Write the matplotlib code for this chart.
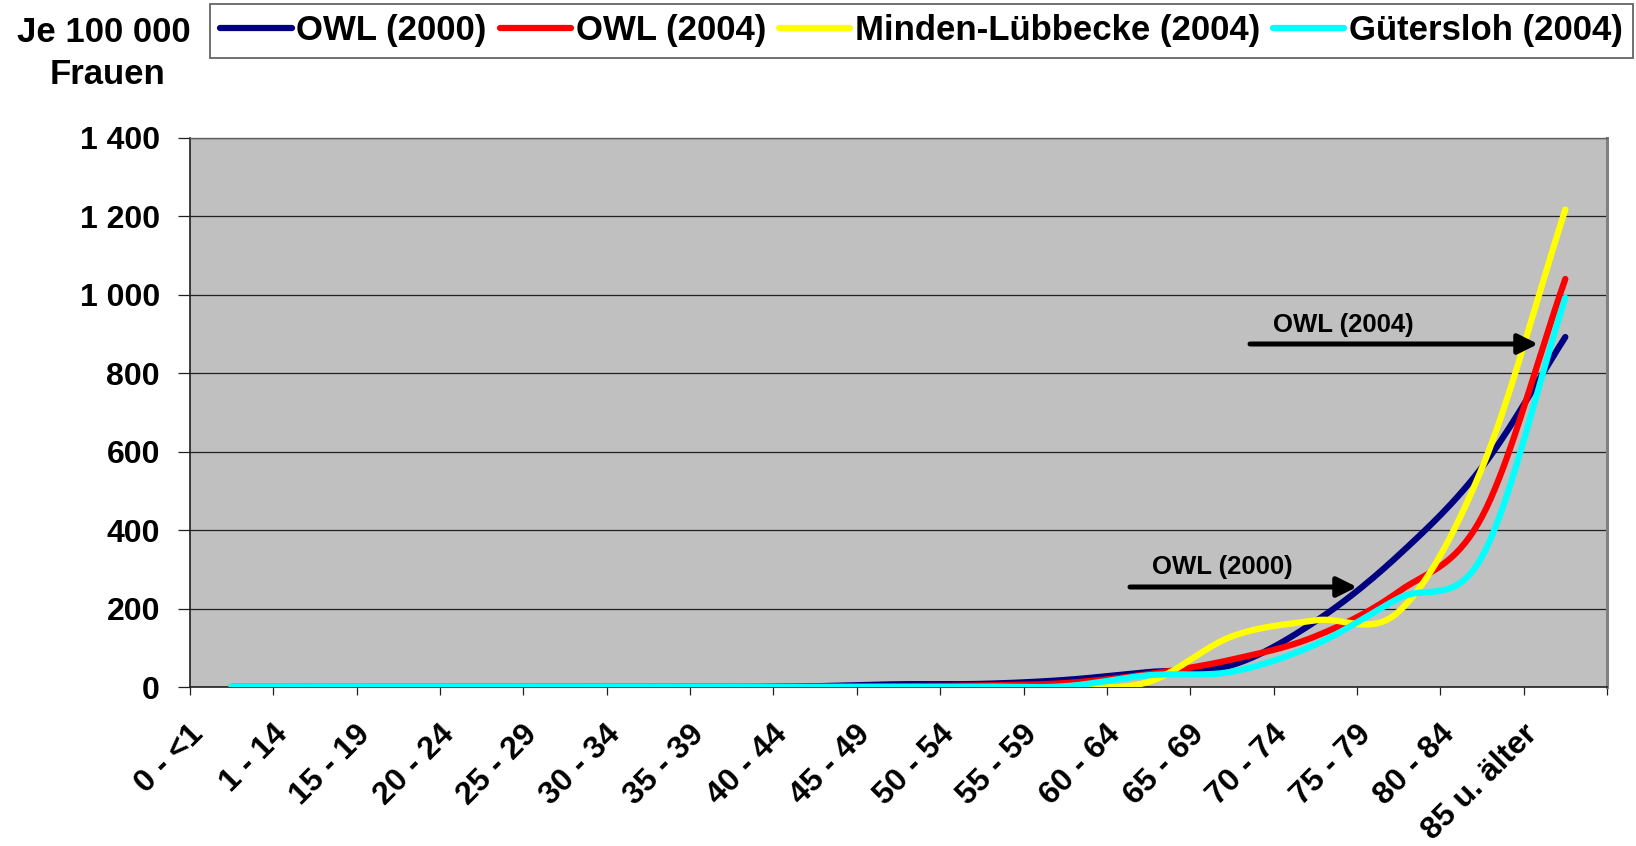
import numpy as np
import matplotlib
matplotlib.use('Agg')
import matplotlib.pyplot as plt
from matplotlib.lines import Line2D
from matplotlib.patches import FancyArrowPatch
import matplotlib.transforms as mtransforms

plt.rcParams['font.family'] = ['Liberation Sans', 'DejaVu Sans']
plt.rcParams['font.weight'] = 'bold'

# ---------------- data ----------------
categories = ['0 - <1', '1 - 14', '15 - 19', '20 - 24', '25 - 29', '30 - 34',
              '35 - 39', '40 - 44', '45 - 49', '50 - 54', '55 - 59', '60 - 64',
              '65 - 69', '70 - 74', '75 - 79', '80 - 84', '85 u. älter']

owl_2000 = [0, 0, 0, 0, 0, 0, 0, 2, 7, 8, 18, 38, 56, 167, 336, 560, 892]
owl_2004 = [0, 0, 0, 0, 0, 0, 0, 1, 2, 4, 10, 33, 70, 129, 243, 434, 1040]
minden_2004 = [0, 0, 0, 0, 0, 0, 0, 0, 0, 0, 0, 13, 129, 170, 192, 558, 1217]
guetersloh_2004 = [0, 0, 0, 0, 0, 0, 0, 0, 0, 1, 2, 30, 39, 108, 226, 332, 992]

series_names = ['OWL (2000)', 'OWL (2004)', 'Minden-Lübbecke (2004)', 'Gütersloh (2004)']
series_values = [owl_2000, owl_2004, minden_2004, guetersloh_2004]
series_colors = ['#000080', '#FF0000', '#FFFF00', '#00FFFF']

y_ticks = [0, 200, 400, 600, 800, 1000, 1200, 1400]
y_tick_labels = ['0', '200', '400', '600', '800', '1 000', '1 200', '1 400']

y_title_lines = ['Je 100 000', 'Frauen']


def smooth(vals, n=40):
    """Excel-like smoothed line (Catmull-Rom Bezier)."""
    y = np.asarray(vals, dtype=float)
    x = np.arange(len(y), dtype=float)
    m = np.zeros_like(y)
    m[1:-1] = (y[2:] - y[:-2]) / 2.0
    m[0] = (y[1] - y[0]) / 2.0
    m[-1] = (y[-1] - y[-2])
    xs, ys = [], []
    t = np.linspace(0, 1, n)
    for i in range(len(y) - 1):
        p0, p3 = y[i], y[i + 1]
        p1 = p0 + m[i] / 3.0
        p2 = p3 - m[i + 1] / 3.0
        b = ((1 - t) ** 3 * p0 + 3 * (1 - t) ** 2 * t * p1 +
             3 * (1 - t) * t ** 2 * p2 + t ** 3 * p3)
        xs.append(x[i] + t)
        ys.append(b)
    return np.concatenate(xs), np.concatenate(ys)


W, H = 1636, 846
fig = plt.figure(figsize=(W / 100, H / 100), dpi=100)
fig.patch.set_facecolor('white')

left, right, top, bottom = 190, 1607, 137.7, 687
ax = fig.add_axes([left / W, 1 - bottom / H, (right - left) / W, (bottom - top) / H])
ax.set_facecolor('#C0C0C0')
ax.set_xlim(-0.5, len(categories) - 0.5)
ax.set_ylim(0, 1400)

for vals, col in zip(series_values, series_colors):
    sx, sy = smooth(vals)
    ax.plot(sx, sy, color=col, lw=4.5, solid_capstyle='round',
            solid_joinstyle='round', zorder=3)

# grid & axes
ax.set_yticks(y_ticks)
ax.set_yticklabels(y_tick_labels, fontsize=23, fontweight='bold')
ax.yaxis.grid(True, color='#202020', lw=0.9)
ax.set_axisbelow(True)
ax.tick_params(axis='y', direction='out', length=8.6, width=0.9, pad=13, color='#202020')

ax.set_xticks(np.arange(-0.5, len(categories), 1.0))
ax.set_xticklabels([])
ax.tick_params(axis='x', direction='out', length=6, width=0.9, color='#202020')

for side in ['left', 'bottom']:
    ax.spines[side].set_color('#202020')
    ax.spines[side].set_linewidth(1.2)
ax.spines['top'].set_color('#606060')
ax.spines['top'].set_linewidth(1.0)
ax.spines['right'].set_color('#808080')
ax.spines['right'].set_linewidth(2.2)

# category labels (rotated)
trans = mtransforms.blended_transform_factory(ax.transData, ax.transAxes)
off = mtransforms.ScaledTranslation(-43 / 100, -32 / 100, fig.dpi_scale_trans)
for i, lab in enumerate(categories):
    ax.text(i, 0, lab, transform=trans + off, rotation=45, rotation_mode='anchor',
            ha='right', va='top', fontsize=23, fontweight='bold', clip_on=False)

# y title
fig.text(104 / W, 1 - 32 / H, y_title_lines[0], ha='center', va='center',
         fontsize=25, fontweight='bold')
fig.text(108 / W, 1 - 74 / H, y_title_lines[1], ha='center', va='center',
         fontsize=25, fontweight='bold')

# legend
handles = [Line2D([], [], color=c, lw=4.5, solid_capstyle='round') for c in series_colors]
leg = fig.legend(handles, series_names, loc='upper left',
                 bbox_to_anchor=(210 / W, 1 - 4 / H), ncol=4,
                 prop={'weight': 'bold', 'size': 25}, frameon=True, fancybox=False,
                 edgecolor='#404040', handlelength=2.05, handletextpad=0.14,
                 columnspacing=0.37, borderpad=0.3, borderaxespad=0)
leg.get_frame().set_linewidth(1.3)


# annotations
def px_to_data(px, py):
    xd = (px - left) / (right - left) * len(categories) - 0.5
    yd = (bottom - py) / (bottom - top) * 1400
    return xd, yd


for text, tx, ty, ax0, ax1, ay in [('OWL (2000)', 1222, 567, 1130, 1357, 587),
                                   ('OWL (2004)', 1343, 325, 1250, 1538, 344)]:
    x0, y0 = px_to_data(ax0, ay)
    x1, _ = px_to_data(ax1, ay)
    arr = FancyArrowPatch((x0, y0), (x1, y0),
                          arrowstyle='-|>,head_length=0.6,head_width=0.3',
                          mutation_scale=20, lw=3.6, color='black',
                          shrinkA=0, shrinkB=0, zorder=5)
    ax.add_patch(arr)
    txd, tyd = px_to_data(tx, ty)
    ax.text(txd, tyd, text, ha='center', va='center', fontsize=18.5,
            fontweight='bold', zorder=5)

fig.savefig('out.png', dpi=100)
